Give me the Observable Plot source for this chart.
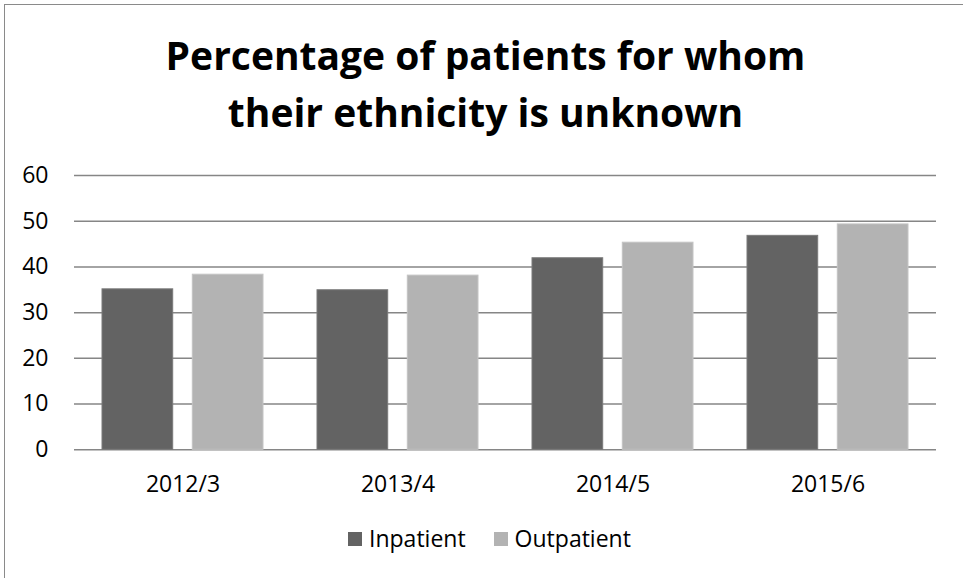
<!DOCTYPE html>
<html>
<head>
<meta charset="utf-8">
<script src="https://cdn.jsdelivr.net/npm/d3@7"></script>
<script src="https://cdn.jsdelivr.net/npm/@observablehq/plot@0.6"></script>
<style>
  html, body { margin: 0; padding: 0; background: #fff; }
  #wrap { position: relative; width: 963px; height: 578px; overflow: hidden; font-family: "Open Sans", sans-serif; }
  #frame { position: absolute; left: 4px; top: 4px; width: 1000px; height: 1000px; border-left: 1.5px solid #8a8a8a; border-top: 1.5px solid #8a8a8a; box-sizing: border-box; }
  #title { position: absolute; left: 8px; width: 955px; top: 26px; text-align: center; font-weight: bold; font-size: 39px; line-height: 57px; color: #000; }
  #chart { position: absolute; left: 0; top: 140px; }
  #legend { position: absolute; left: 348px; top: 527px; display: flex; align-items: center; font-size: 23px; line-height: 23px; color: #000; }
  .sw { width: 14px; height: 14px; margin-right: 7px; }
  .item { display: flex; align-items: center; margin-right: 28px; }
</style>
</head>
<body>
<div id="wrap">
  <div id="frame"></div>
  <div id="title">Percentage of patients for whom<br>their ethnicity is unknown</div>
  <div id="chart"></div>
  <div id="legend"></div>
</div>
<script>
const years = ["2012/3", "2013/4", "2014/5", "2015/6"];
const inpatient = [35.1, 34.9, 41.9, 46.8];
const outpatient = [38.3, 38.1, 45.3, 49.3];
const seriesNames = ["Inpatient", "Outpatient"];
const seriesColors = ["#636363", "#b3b3b3"];
const seriesStrokes = ["#7a7a7a", "#c4c4c4"];
const yTicks = [0, 10, 20, 30, 40, 50, 60];

const inData = years.map((y, i) => ({year: y, value: inpatient[i]}));
const outData = years.map((y, i) => ({year: y, value: outpatient[i]}));

const plot = Plot.plot({
  width: 963,
  height: 360,
  marginTop: 35,
  marginBottom: 50.7,
  marginLeft: 74,
  marginRight: 27,
  style: {fontFamily: "Open Sans, sans-serif", fontSize: "23px", color: "#000", background: "transparent", overflow: "visible"},
  x: {domain: years, paddingInner: 0.25, paddingOuter: 0.125},
  y: {domain: [0, 60]},
  marks: [
    Plot.ruleY(yTicks, {stroke: "#868686", strokeWidth: 1.5}),
    Plot.barY(inData, {x: "year", y: "value", fill: seriesColors[0], stroke: seriesStrokes[0], strokeWidth: 1, insetRight: 90.3}),
    Plot.barY(outData, {x: "year", y: "value", fill: seriesColors[1], stroke: seriesStrokes[1], strokeWidth: 1, insetLeft: 90.3}),
    Plot.axisX({tickSize: 0, tickPadding: 26, fontSize: 23, label: null}),
    Plot.axisY({ticks: yTicks, tickSize: 0, tickPadding: 26, fontSize: 23, label: null})
  ]
});
document.getElementById("chart").appendChild(plot);

const legend = document.getElementById("legend");
seriesNames.forEach((name, i) => {
  const item = document.createElement("div");
  item.className = "item";
  const sw = document.createElement("div");
  sw.className = "sw";
  sw.style.background = seriesColors[i];
  const t = document.createElement("span");
  t.textContent = name;
  item.appendChild(sw);
  item.appendChild(t);
  legend.appendChild(item);
});
</script>
</body>
</html>
